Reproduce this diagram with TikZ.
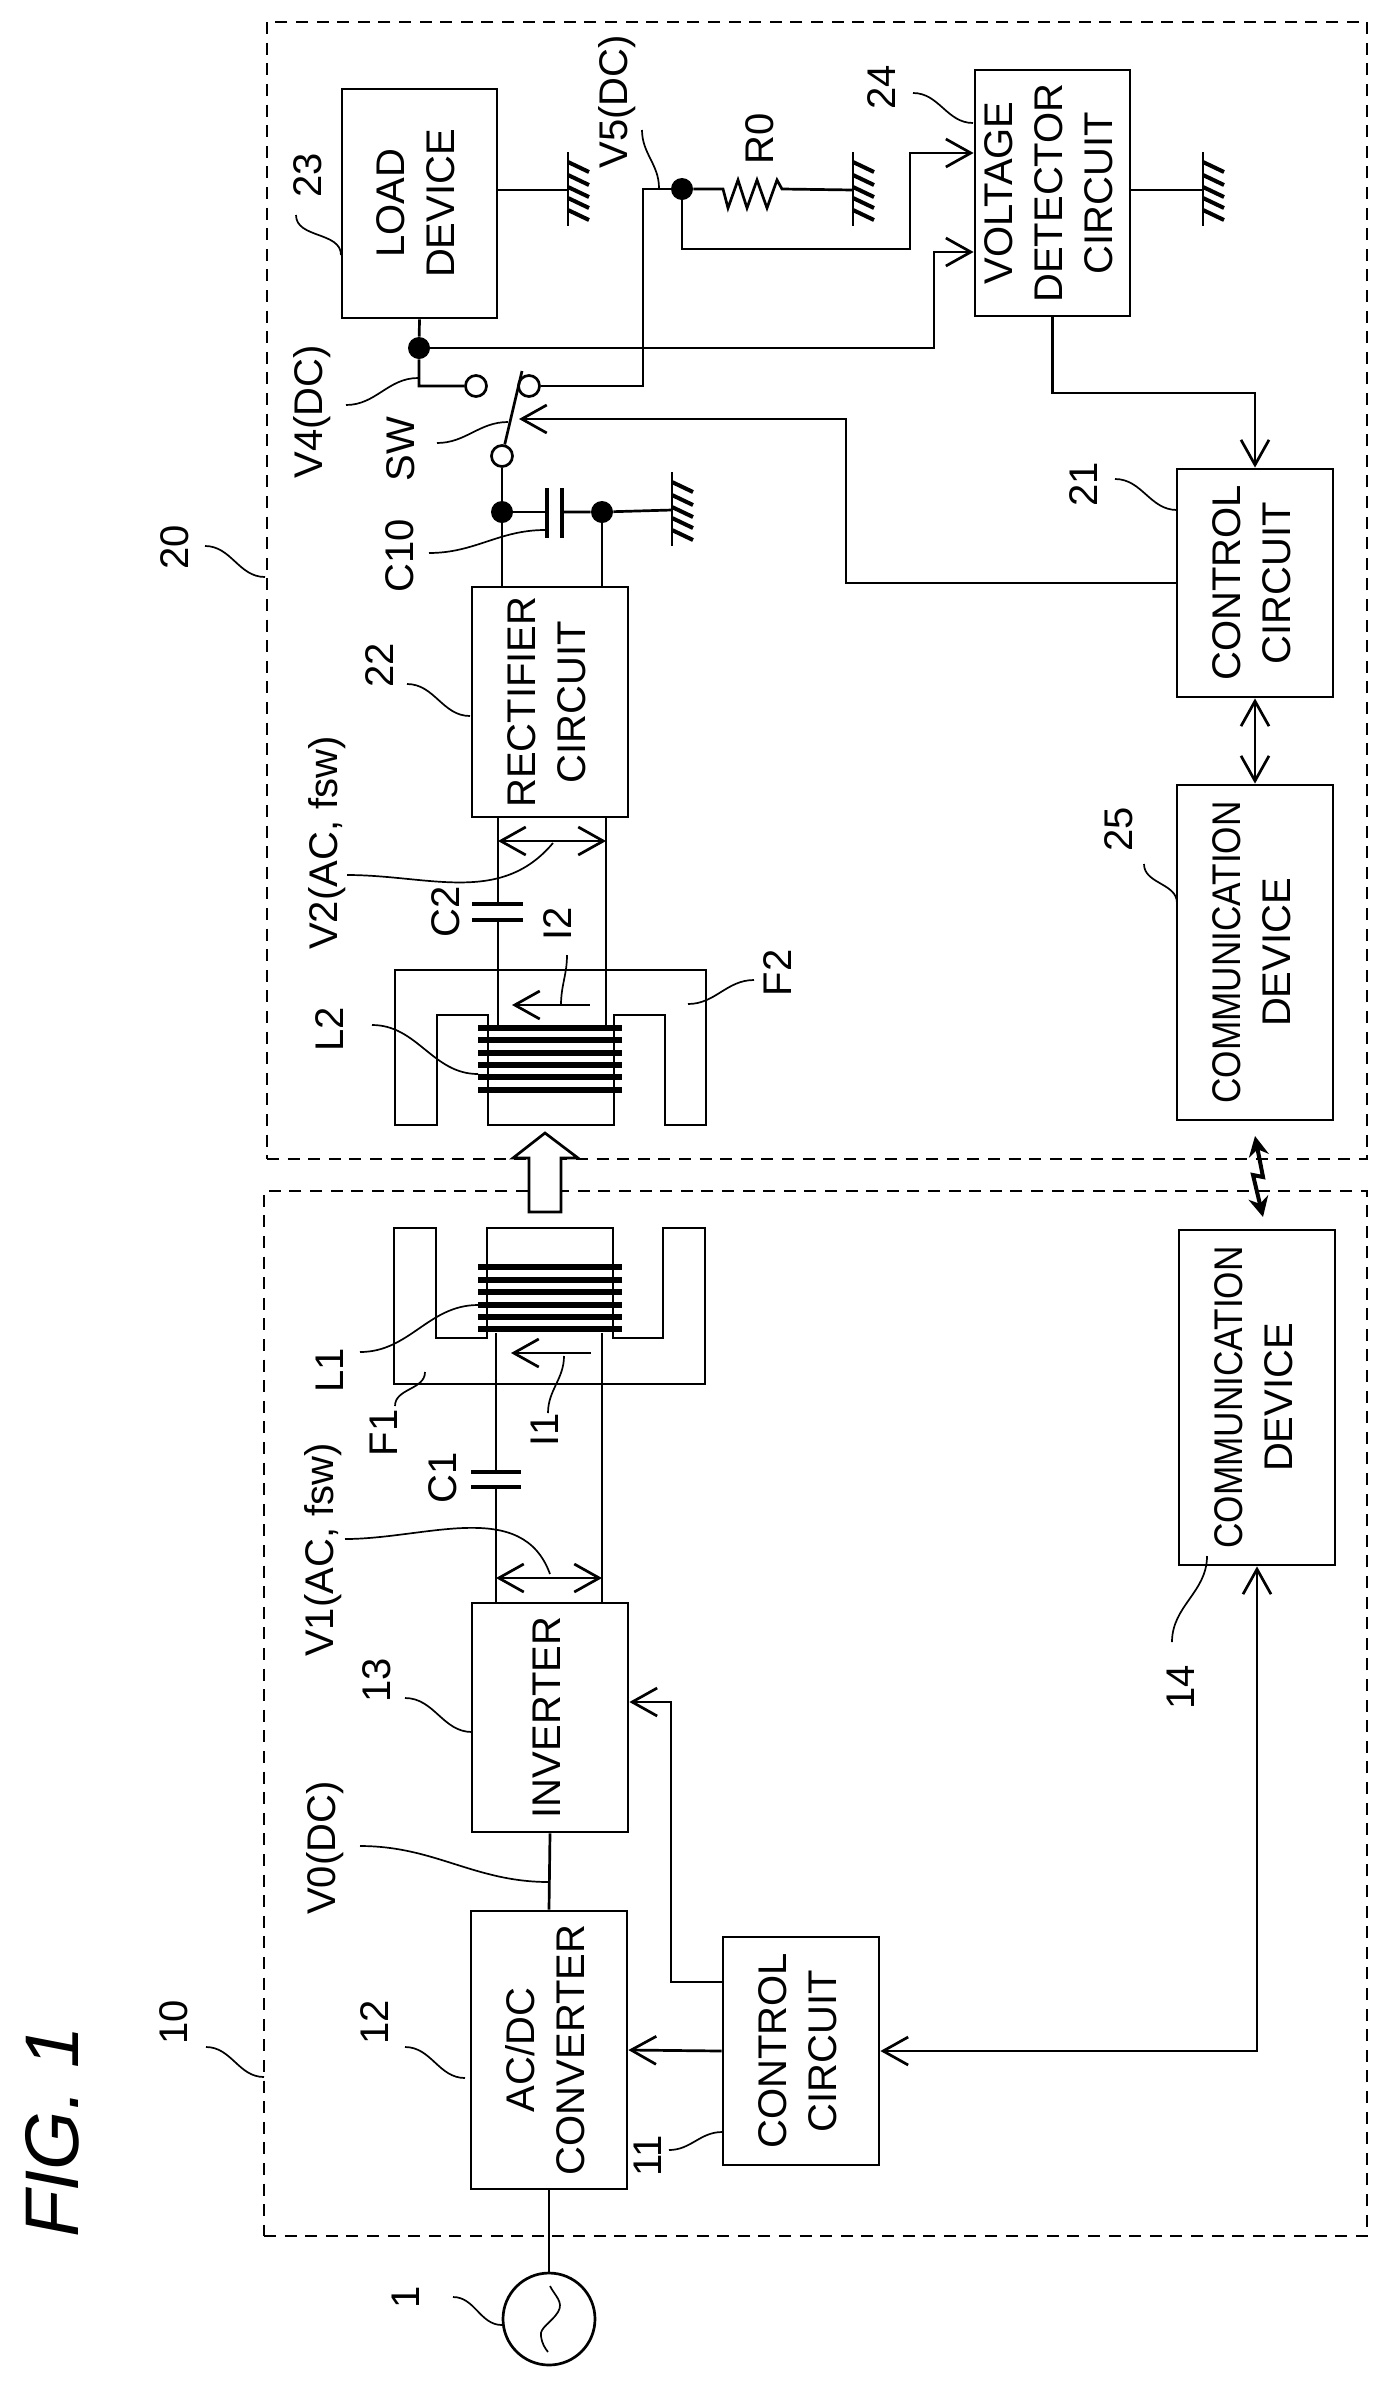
\documentclass[tikz,border=0pt]{standalone}
\usepackage{fontspec}
\setmainfont{Liberation Sans}
\usetikzlibrary{arrows.meta}

\newcommand{\vtext}[1]{\rotatebox{90}{\begin{tabular}{@{}c@{}}#1\end{tabular}}}
\newcommand{\earth}[1]{%
  \draw[wire] (#1) ++(0,-38) -- ++(0,74);
  \foreach \d in {-28,-15,-3,8,20} \draw[hatch] (#1) ++(0,\d) -- ++(21,10);
}
\tikzset{
  wh/.style 2 args={minimum width=#1*0.5pt,minimum height=#2*0.5pt},
  wire/.style={line width=1.35pt},
  leader/.style={line width=0.85pt},
  hatch/.style={line width=2pt},
  plate/.style={line width=2.4pt},
  winding/.style={line width=3.3pt},
  block/.style={draw,line width=1.4pt,inner sep=0pt,font=\fontsize{20}{25}\selectfont},
  zone/.style={draw,inner sep=0pt,line width=1pt,dash pattern=on 6pt off 4.3pt},
  tag/.style={rotate=90,inner sep=0pt,text height=14.3pt,text depth=0pt,font=\fontsize{20}{24}\selectfont},
  dot/.style={circle,fill,inner sep=0pt,minimum size=11pt},
  contact/.style={circle,draw,wire,fill=white,inner sep=0pt,minimum size=10.5pt},
  >={Straight Barb[length=12.5pt,width=14pt]}
}

\begin{document}
\begin{tikzpicture}[x=0.5pt,y=-0.5pt]
  \useasboundingbox (0,0) rectangle (1394,2388);

  % zones
  \node[zone,wh={1100}{1137}] (zonerx) at (817,590.5) {};
  \node[zone,wh={1103}{1045}] (zonetx) at (815.5,1713.5) {};

  % blocks
  \node[block,wh={155}{229}] (load) at (419.5,203.5) {\vtext{LOAD\\DEVICE}};
  \node[block,wh={155}{246}] (det) at (1052.5,193) {\vtext{VOLTAGE\\DETECTOR\\CIRCUIT}};
  \node[block,wh={156}{228}] (ctrlb) at (1255,583) {\vtext{CONTROL\\CIRCUIT}};
  \node[block,wh={156}{335}] (commb) at (1255,952.5) {\vtext{\scalebox{0.88}[1]{COMMUNICATION}\\DEVICE}};
  \node[block,wh={156}{230}] (rect) at (550,702) {\vtext{RECTIFIER\\CIRCUIT}};
  \node[block,wh={156}{229}] (inv) at (550,1717.5) {\vtext{INVERTER}};
  \node[block,wh={156}{278}] (acdc) at (549,2050) {\vtext{AC/DC\\CONVERTER}};
  \node[block,wh={156}{228}] (ctrla) at (801,2051) {\vtext{CONTROL\\CIRCUIT}};
  \node[block,wh={156}{335}] (comma) at (1257,1397.5) {\vtext{\scalebox{0.88}[1]{COMMUNICATION}\\DEVICE}};
  \node[circle,draw,wire,inner sep=0pt,minimum size=46pt] (src) at (549,2319) {};
  \coordinate (wavea) at (550,2286);
  \coordinate (waveb) at (548,2352);
  \draw[leader] (wavea) .. controls (555,2296) and (564,2302) .. (558,2312)
    .. controls (552,2322) and (539,2328) .. (541,2336) .. controls (542,2344) and (545,2348) .. (waveb);

  % transformer cores
  \draw[block] (395,1125) -- (395,970) -- (706,970) -- (706,1125) -- (665,1125) -- (665,1015)
    -- (614,1015) -- (614,1125) -- (488,1125) -- (488,1015) -- (437,1015) -- (437,1125) -- cycle;
  \draw[block] (394,1228) -- (394,1384) -- (705,1384) -- (705,1228) -- (663,1228) -- (663,1338)
    -- (613,1338) -- (613,1228) -- (487,1228) -- (487,1338) -- (436,1338) -- (436,1228) -- cycle;
  \foreach \y in {1028,1040,1053,1065,1077,1090,1267,1280,1292,1305,1317,1329}
    \draw[winding] (478,\y) -- (622,\y);

  % named points
  \coordinate (cap2a) at (498,904);
  \coordinate (cap2b) at (498,920);
  \coordinate (coil2l) at (498,1025);
  \coordinate (coil2r) at (606,1025);
  \coordinate (cap1a) at (496,1472);
  \coordinate (cap1b) at (496,1487);
  \coordinate (coil1l) at (496,1333);
  \coordinate (coil1r) at (602,1333);
  \coordinate (capa) at (547,512);
  \coordinate (capb) at (562,512);
  \coordinate (gndl) at (568,190);
  \coordinate (gndr) at (853,190);
  \coordinate (gndd) at (1203,190);
  \coordinate (gndc) at (672,510);
  \coordinate (swtip) at (522,371);
  \coordinate (swarm) at (519,419);
  \coordinate (vfive) at (643,189);
  \node[dot] (dotl) at (419,348) {};
  \node[dot] (dotr) at (682,189) {};
  \node[dot] (dota) at (502,512) {};
  \node[dot] (dotb) at (602,512) {};
  \node[contact] (swa) at (476,386) {};
  \node[contact] (swb) at (529,386) {};
  \node[contact] (swc) at (502,456) {};

  % primary and secondary wiring
  \draw[wire] (src) -- (acdc.south);
  \draw[wire] (acdc.north) -- (inv.south);
  \draw[wire,->] (ctrla.west) -- (acdc.east);
  \draw[wire,->] (ctrla.west |- 0,1982) -| (671,1702) -- (inv.east |- 0,1702);
  \draw[wire,<->] (ctrla.east) -| (comma.south);
  \draw[wire] (inv.north -| cap1b) -- (cap1b);
  \draw[wire] (cap1a) -- (coil1l);
  \draw[wire] (inv.north -| coil1r) -- (coil1r);
  \draw[wire] (rect.south -| cap2a) -- (cap2a);
  \draw[wire] (cap2b) -- (coil2l);
  \draw[wire] (rect.south -| coil2r) -- (coil2r);
  \draw[plate] (471,1472) -- (521,1472);
  \draw[plate] (471,1487) -- (521,1487);
  \draw[plate] (472,904) -- (523,904);
  \draw[plate] (472,920) -- (523,920);
  \draw[wire,<->] (cap1b |- 0,1578) -- (coil1r |- 0,1578);
  \draw[wire,<->] (cap2a |- 0,841) -- (coil2r |- 0,841);
  \draw[wire,<-] (511,1353) -- (591,1353);
  \draw[wire,<-] (512,1005) -- (590,1005);

  % rectifier side
  \draw[wire] (rect.north -| dota) -- (dota) -- (swc);
  \draw[wire] (rect.north -| dotb) -- (dotb);
  \draw[wire] (dota) -- (capa);
  \draw[wire] (capb) -- (dotb) -- (gndc);
  \draw[plate] (547,488) -- (547,538);
  \draw[plate] (562,488) -- (562,538);
  \draw[wire] (swc) -- (swtip);
  \draw[wire] (load.south) -- (dotl) |- (swa);
  \draw[wire] (swb) -| (vfive) -- (dotr);
  \draw[wire] (load.east |- gndl) -- (gndl);
  \draw[wire] (det.east |- gndd) -- (gndd);
  \draw[wire] (dotr) -- (723,189) -- (728,208) -- (738,180) -- (747,208) -- (757,180) -- (767,208) -- (777,180) -- (782,189) -- (gndr);
  \draw[wire,->] (dotl) -| (934,252) -- (det.west |- 0,252);
  \draw[wire,->] (dotr) |- (910,249) -- (910,153) -- (det.west |- 0,153);
  \draw[wire,->] (det.south) -- (1052.5,393) -| (ctrlb.north);
  \draw[wire,->] (ctrlb.west) -| (846,419) -- (swarm);
  \draw[wire,<->] (ctrlb.south) -- (commb.north);
  \earth{gndl}
  \earth{gndr}
  \earth{gndd}
  \earth{gndc}

  % power transfer and radio link
  \draw[wire,fill=white] (529,1212) -- (529,1158) -- (513,1158) -- (545,1133) -- (578,1158) -- (561,1158) -- (561,1212) -- cycle;
  \coordinate (linka) at (1255,1136);
  \coordinate (linkb) at (1263,1217);
  \draw[line width=2pt,{Stealth[length=10pt,width=10pt]}-{Stealth[length=10pt,width=10pt]}] (linka) -- (1263,1177) -- (1253,1175) -- (linkb);

  % reference labels
  \foreach \n/\t/\x/\y in {lab1/1/405/2297,lab10/10/173/2022,lab12/12/374/2022,lab11/11/647/2156,
      lab13/13/376/1680,lab14/14/1180/1687,lab20/20/174/547,lab21/21/1083/484,lab22/22/379/665,
      lab23/23/307/175,lab24/24/881/87,lab25/25/1118/829,labvz/V0(DC)/321/1848,
      labvo/{V1(AC, fsw)}/319/1550,labvt/{V2(AC, fsw)}/323/843,labvf/V4(DC)/308/412,labvv/V5(DC)/613/102,
      labsw/SW/400/449,labcx/C10/399/556,labco/C1/442/1478,labct/C2/445/912,labla/L1/329/1370,
      lablb/L2/329/1029,labfa/F1/383/1433,labfb/F2/777/973,labia/I1/544/1430,labib/I2/557/924,labr/R0/759/139}
    \node[tag] (\n) at (\x,\y) {\t};
  \node[tag,font=\fontsize{38}{44}\selectfont\itshape,text height=27pt] (figtitle) at (51,2132) {FIG. 1};

  % leaders
  \foreach \n/\sx/\sy/\ex/\ey/\o/\i in {a/453/2297/502/2325/0/180,b/206/2047/264/2077/0/180,c/405/2047/465/2078/0/180,
      d/669/2150/722/2132/0/180,e/405/1698/472/1732/0/180,f/1207/1556/1172/1642/-90/90,g/205/546/265/577/0/180,
      h/1115/479/1177/510/0/180,i/407/684/470/716/0/180,j/296/215/341/255/-90/90,k/913/93/973/123/0/180,
      l/1144/864/1177/903/-90/90,m/360/1846/549/1882/0/180,n/345/1539/550/1574/0/110,o/347/875/553/843/0/-130,
      p/346/405/418/378/0/180,q/642/130/659/188/-90/90,r/437/443/508/422/0/180,s/429/553/545/530/0/180,
      t/360/1352/478/1305/0/180,u/372/1025/478/1074/0/180,v/425/1372/395/1406/-90/90,w/688/1004/754/980/0/180,
      x/564/1356/548/1413/-90/90,y/561/1005/567/955/90/-90}{
    \coordinate (lead\n a) at (\sx,\sy);
    \coordinate (lead\n b) at (\ex,\ey);
    \draw[leader] (lead\n a) to[out=\o,in=\i] (lead\n b);
  }
\end{tikzpicture}
\end{document}
